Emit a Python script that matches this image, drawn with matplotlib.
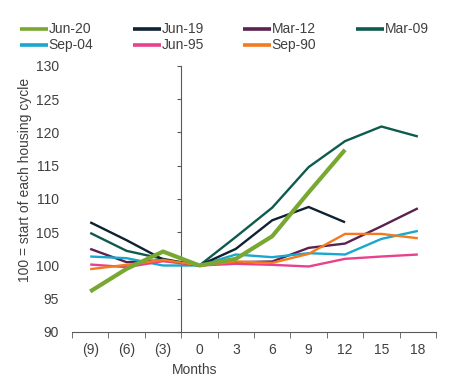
#Housing cycle comparison chart

import numpy as np
import matplotlib
matplotlib.use('Agg')
import matplotlib.pyplot as plt

plt.rcParams['font.family'] = ['Liberation Sans', 'DejaVu Sans']

months = ['(9)', '(6)', '(3)', '0', '3', '6', '9', '12', '15', '18']

jun20 = [96.1, 99.5, 102.1, 100.0, 101.0, 104.4, 111.0, 117.4]
jun19 = [106.5, 103.8, 100.9, 100.0, 102.5, 106.8, 108.8, 106.5]
mar12 = [102.5, 100.5, 100.8, 100.0, 100.5, 100.6, 102.65, 103.3, 105.9, 108.6]
mar09 = [104.9, 102.2, 101.0, 100.0, 104.3, 108.7, 114.8, 118.7, 120.9, 119.4]
sep04 = [101.35, 101.1, 100.0, 100.0, 101.65, 101.25, 101.85, 101.65, 104.0, 105.2]
jun95 = [100.15, 99.75, 100.65, 100.0, 100.25, 100.1, 99.85, 101.0, 101.35, 101.65]
sep90 = [99.45, 100.1, 100.85, 100.0, 100.6, 100.4, 101.75, 104.75, 104.75, 104.1]

yticks = [90, 95, 100, 105, 110, 115, 120, 125, 130]

txt = '#404040'
axc = '#595959'

fig = plt.figure(figsize=(4.5, 3.78), dpi=100)
ax = fig.add_axes([0.16, 0.1217, 0.809, 0.7037])

x = np.arange(len(months))
series = [
    ('Jun-20', jun20, '#78A832', 3.0, 9),
    ('Sep-04', sep04, '#19A7CE', 1.7, 4),
    ('Jun-19', jun19, '#0E2232', 1.7, 6),
    ('Jun-95', jun95, '#E8418D', 1.7, 5),
    ('Mar-12', mar12, '#5B2150', 1.7, 3),
    ('Sep-90', sep90, '#F47A20', 1.7, 7),
    ('Mar-09', mar09, '#0F5A4F', 1.7, 2),
]
for nome, vals, cor, lw, z in series:
    ax.plot(x[:len(vals)], vals, color=cor, lw=lw, label=nome, zorder=z,
            solid_capstyle='butt')

ax.set_xlim(-0.5, len(months) - 0.5)
ax.set_ylim(90, 130)

# eixo y cruza entre (3) e 0
ax.spines['left'].set_position(('data', 2.5))
ax.spines['left'].set_color(axc)
ax.spines['bottom'].set_color(axc)
ax.spines['top'].set_visible(False)
ax.spines['right'].set_visible(False)

ax.set_yticks(yticks)
ax.set_yticklabels([str(v) for v in yticks])
ax.tick_params(axis='y', length=3, color=axc, pad=85, labelsize=10, labelcolor=txt)

ax.set_xticks(x)
ax.set_xticklabels(months)
ax.set_xticks(np.arange(len(months) + 1) - 0.5, minor=True)
ax.tick_params(axis='x', which='major', length=0, pad=8, labelsize=10, labelcolor=txt)
ax.tick_params(axis='x', which='minor', length=4, color=axc)

ax.set_xlabel('Months', fontsize=10, color=txt)
ax.xaxis.set_label_coords(0.338, -0.115)
ax.set_ylabel('100 = start of each housing cycle', fontsize=10, color=txt)
ax.yaxis.set_label_coords(-0.11, 0.571)

leg = ax.legend(loc='lower left', bbox_to_anchor=(-0.158, 1.03), ncol=4, frameon=False,
                fontsize=10, handlelength=2.0, handletextpad=0.05, columnspacing=2.85,
                labelspacing=0.15, borderaxespad=0, labelcolor=txt)
for h in leg.get_lines():
    h.set_linewidth(2.6)

plt.savefig('out.png', dpi=100)
